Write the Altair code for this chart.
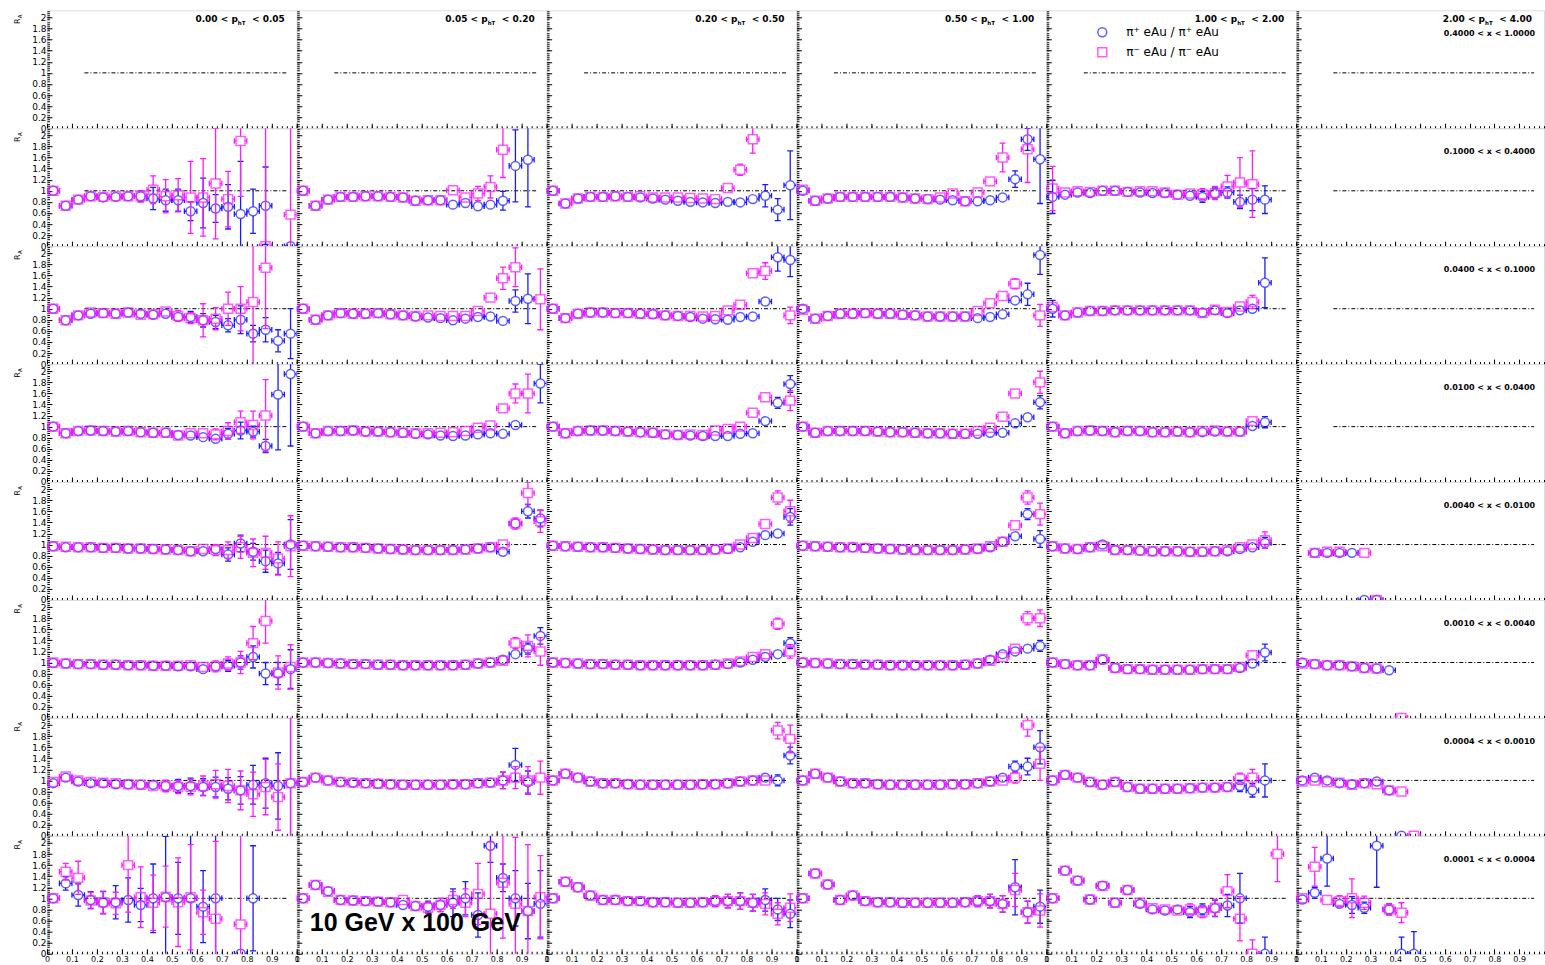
import altair as alt
import pandas as pd

N = None

# ---------------- bins / labels ----------------
Z_CENTERS = [0.025, 0.075, 0.125, 0.175, 0.225, 0.275, 0.325, 0.375, 0.425, 0.475,
             0.525, 0.575, 0.625, 0.675, 0.725, 0.775, 0.825, 0.875, 0.925, 0.975]
Z_HALF = 0.025
Y_MAX = 2.13
REF_X = [0.15, 0.96]
REF_Y = 1.0

PT_EDGES = ["0.00", "0.05", "0.20", "0.50", "1.00", "2.00", "4.00"]
X_RANGES = ["0.4000 < x < 1.0000", "0.1000 < x < 0.4000", "0.0400 < x < 0.1000",
            "0.0100 < x < 0.0400", "0.0040 < x < 0.0100", "0.0010 < x < 0.0040",
            "0.0004 < x < 0.0010", "0.0001 < x < 0.0004"]
SERIES = ["π⁺ eAu / π⁺ eAu", "π⁻ eAu / π⁻ eAu"]
COLORS = ["#1a1aff", "#ff1aff"]
SHAPES = ["circle", "square"]
BEAM_LABEL = "10 GeV x 100 GeV"

Y_MAJOR = [0.0, 0.2, 0.4, 0.6, 0.8, 1.0, 1.2, 1.4, 1.6, 1.8, 2.0]
X_MAJOR = [0.0, 0.1, 0.2, 0.3, 0.4, 0.5, 0.6, 0.7, 0.8, 0.9, 1.0]
Y_MINOR = [round(0.04 * k, 2) for k in range(54)]
X_MINOR = [round(0.02 * k, 2) for k in range(51)]

# ---------------- data: R<row>C<col>_POS / _NEG (value, error) ----------------
# row 2 : 0.1000 < x < 0.4000
R2C1_POS = [1.00, 0.73, 0.84, 0.90, 0.88, 0.89, 0.90, 0.90, 0.86, 0.83, 0.83, 0.63, 0.78, 0.68, 0.71, 0.58, 0.63, 0.73, N, 0.00]
R2C1_POS_ERR = [0.03, 0.03, 0.03, 0.04, 0.05, 0.06, 0.08, 0.10, 0.20, 0.20, 0.20, 0.17, 0.45, 0.25, 0.40, 0.95, 0.40, 0.70, N, 0.05]
R2C1_NEG = [1.00, 0.73, 0.84, 0.90, 0.89, 0.90, 0.90, 0.90, 1.02, 0.90, 0.92, 0.88, 0.88, 1.13, 0.85, 1.90, N, 0.00, N, 0.57]
R2C1_NEG_ERR = [0.03, 0.03, 0.03, 0.04, 0.05, 0.06, 0.08, 0.10, 0.25, 0.30, 0.30, 0.65, 0.70, 1.00, 0.50, 1.00, N, 2.20, N, 1.60]
R2C2_POS = [1.00, 0.73, 0.84, 0.89, 0.89, 0.90, 0.90, 0.89, 0.88, 0.82, 0.83, 0.83, 0.75, 0.78, 0.72, 0.75, 0.82, 1.45, 1.56, N]
R2C2_POS_ERR = [0.03, 0.03, 0.03, 0.03, 0.03, 0.03, 0.03, 0.03, 0.03, 0.03, 0.04, 0.04, 0.05, 0.05, 0.07, 0.08, 0.17, 0.65, 0.85, N]
R2C2_NEG = [1.00, 0.73, 0.84, 0.89, 0.89, 0.90, 0.90, 0.89, 0.88, 0.82, 0.83, 0.83, 1.01, 0.88, 0.95, 1.07, 1.74, N, N, N]
R2C2_NEG_ERR = [0.03, 0.03, 0.03, 0.03, 0.03, 0.03, 0.03, 0.03, 0.03, 0.03, 0.04, 0.04, 0.06, 0.07, 0.13, 0.20, 0.50, N, N, N]
R2C3_POS = [1.00, 0.77, 0.86, 0.89, 0.89, 0.90, 0.89, 0.88, 0.86, 0.84, 0.82, 0.80, 0.79, 0.78, 0.80, 0.79, 0.85, 0.91, 0.66, 1.10]
R2C3_POS_ERR = [0.03, 0.03, 0.03, 0.03, 0.03, 0.03, 0.03, 0.03, 0.03, 0.03, 0.03, 0.03, 0.03, 0.03, 0.04, 0.04, 0.08, 0.20, 0.20, 0.62]
R2C3_NEG = [1.00, 0.77, 0.86, 0.89, 0.89, 0.90, 0.89, 0.90, 0.88, 0.88, 0.88, 0.87, 0.86, 0.85, 1.05, 1.38, 1.93, N, N, N]
R2C3_NEG_ERR = [0.03, 0.03, 0.03, 0.03, 0.03, 0.03, 0.03, 0.03, 0.03, 0.03, 0.03, 0.03, 0.03, 0.03, 0.05, 0.10, 0.25, N, N, N]
R2C4_POS = [1.00, 0.82, 0.86, 0.89, 0.89, 0.89, 0.89, 0.89, 0.88, 0.86, 0.85, 0.84, 0.83, 0.81, 0.81, 0.83, 0.88, 1.21, 1.93, 1.57]
R2C4_POS_ERR = [0.03, 0.03, 0.03, 0.03, 0.03, 0.03, 0.03, 0.03, 0.03, 0.03, 0.03, 0.03, 0.03, 0.03, 0.03, 0.04, 0.05, 0.15, 0.20, 0.80]
R2C4_NEG = [1.02, 0.82, 0.86, 0.89, 0.89, 0.89, 0.89, 0.89, 0.88, 0.86, 0.85, 0.88, 0.95, 0.81, 0.97, 1.17, 1.60, N, 1.75, N]
R2C4_NEG_ERR = [0.03, 0.03, 0.03, 0.03, 0.03, 0.03, 0.03, 0.03, 0.03, 0.03, 0.03, 0.03, 0.03, 0.03, 0.03, 0.08, 0.26, N, 0.60, N]
R2C5_POS = [0.89, 0.93, 0.97, 0.96, 1.00, 1.00, 0.98, 0.97, 0.96, 0.96, 0.93, 0.91, 0.89, 0.95, 0.97, 0.80, 0.84, 0.84, N, N]
R2C5_POS_ERR = [0.30, 0.08, 0.06, 0.05, 0.05, 0.05, 0.05, 0.05, 0.06, 0.06, 0.07, 0.08, 0.10, 0.10, 0.10, 0.12, 0.20, 0.25, N, N]
R2C5_NEG = [1.04, 0.97, 0.99, 0.98, 1.00, 1.00, 0.98, 0.99, 0.99, 0.97, 0.93, 0.95, 0.94, 0.96, 1.08, 1.15, 1.12, N, N, N]
R2C5_NEG_ERR = [0.40, 0.08, 0.06, 0.05, 0.05, 0.05, 0.05, 0.05, 0.06, 0.06, 0.07, 0.08, 0.10, 0.12, 0.20, 0.45, 0.60, N, N, N]

# row 3 : 0.0400 < x < 0.1000
R3C1_POS = [1.00, 0.79, 0.88, 0.91, 0.92, 0.91, 0.93, 0.91, 0.89, 0.91, 0.85, 0.85, 0.79, 0.76, 0.70, 0.80, 0.55, 0.62, 0.42, 0.55]
R3C1_POS_ERR = [0.03, 0.03, 0.03, 0.03, 0.03, 0.03, 0.03, 0.03, 0.03, 0.06, 0.08, 0.10, 0.12, 0.12, 0.12, 0.25, 0.15, 0.22, 0.20, 0.45]
R3C1_NEG = [1.00, 0.79, 0.88, 0.93, 0.92, 0.91, 0.93, 0.89, 0.90, 0.95, 0.87, 0.83, 0.79, 0.82, 1.00, 1.00, 1.12, 1.74, N, N]
R3C1_NEG_ERR = [0.03, 0.03, 0.03, 0.03, 0.03, 0.03, 0.03, 0.03, 0.03, 0.06, 0.10, 0.10, 0.30, 0.20, 0.30, 0.40, 1.20, 1.10, N, N]
R3C2_POS = [1.00, 0.80, 0.88, 0.92, 0.91, 0.91, 0.92, 0.90, 0.88, 0.86, 0.84, 0.83, 0.79, 0.82, 0.85, 0.86, 0.78, 1.14, 1.18, N]
R3C2_POS_ERR = [0.03, 0.03, 0.03, 0.03, 0.03, 0.03, 0.03, 0.03, 0.03, 0.03, 0.03, 0.03, 0.03, 0.03, 0.04, 0.04, 0.04, 0.20, 0.45, N]
R3C2_NEG = [1.00, 0.80, 0.88, 0.92, 0.91, 0.91, 0.92, 0.90, 0.88, 0.87, 0.88, 0.87, 0.87, 0.87, 0.96, 1.20, 1.55, 1.75, N, 1.17]
R3C2_NEG_ERR = [0.03, 0.03, 0.03, 0.03, 0.03, 0.03, 0.03, 0.03, 0.03, 0.03, 0.03, 0.03, 0.03, 0.03, 0.05, 0.08, 0.20, 0.35, N, 0.55]
R3C3_POS = [1.00, 0.83, 0.91, 0.93, 0.93, 0.92, 0.92, 0.91, 0.90, 0.88, 0.87, 0.85, 0.82, 0.81, 0.80, 0.85, 0.86, 1.13, 1.93, 1.88]
R3C3_POS_ERR = [0.03, 0.03, 0.03, 0.03, 0.03, 0.03, 0.03, 0.03, 0.03, 0.03, 0.03, 0.03, 0.03, 0.03, 0.03, 0.03, 0.03, 0.06, 0.25, 0.30]
R3C3_NEG = [1.00, 0.83, 0.91, 0.93, 0.93, 0.92, 0.92, 0.91, 0.91, 0.88, 0.87, 0.87, 0.86, 0.87, 0.97, 1.07, 1.64, 1.68, N, 0.88]
R3C3_NEG_ERR = [0.03, 0.03, 0.03, 0.03, 0.03, 0.03, 0.03, 0.03, 0.03, 0.03, 0.03, 0.03, 0.03, 0.03, 0.03, 0.03, 0.05, 0.15, N, 0.15]
R3C4_POS = [1.00, 0.82, 0.87, 0.91, 0.91, 0.92, 0.91, 0.91, 0.89, 0.88, 0.86, 0.86, 0.86, 0.86, 0.83, 0.85, 0.90, 1.15, 1.26, 1.97]
R3C4_POS_ERR = [0.03, 0.03, 0.03, 0.03, 0.03, 0.03, 0.03, 0.03, 0.03, 0.03, 0.03, 0.03, 0.03, 0.03, 0.03, 0.03, 0.03, 0.07, 0.20, 0.35]
R3C4_NEG = [0.98, 0.82, 0.87, 0.91, 0.91, 0.92, 0.91, 0.91, 0.89, 0.88, 0.86, 0.86, 0.86, 0.86, 0.96, 1.10, 1.23, 1.45, N, 0.88]
R3C4_NEG_ERR = [0.03, 0.03, 0.03, 0.03, 0.03, 0.03, 0.03, 0.03, 0.03, 0.03, 0.03, 0.03, 0.03, 0.03, 0.03, 0.03, 0.04, 0.09, N, 0.20]
R3C5_POS = [1.00, 0.88, 0.93, 0.96, 0.96, 0.97, 0.97, 0.97, 0.97, 0.97, 0.97, 0.97, 0.93, 0.97, 0.92, 0.97, 1.00, 1.47, N, N]
R3C5_POS_ERR = [0.15, 0.03, 0.03, 0.03, 0.03, 0.03, 0.03, 0.03, 0.03, 0.03, 0.03, 0.03, 0.03, 0.03, 0.04, 0.06, 0.07, 0.45, N, N]
R3C5_NEG = [1.03, 0.88, 0.93, 0.96, 0.96, 0.97, 0.97, 0.97, 0.97, 0.97, 0.97, 0.97, 0.92, 0.98, 0.94, 1.04, 1.12, N, N, N]
R3C5_NEG_ERR = [0.05, 0.03, 0.03, 0.03, 0.03, 0.03, 0.03, 0.03, 0.03, 0.03, 0.03, 0.03, 0.03, 0.03, 0.04, 0.07, 0.12, N, N, N]

# row 4 : 0.0100 < x < 0.0400
R4C1_POS = [1.00, 0.88, 0.92, 0.93, 0.92, 0.91, 0.92, 0.90, 0.89, 0.89, 0.85, 0.84, 0.81, 0.78, 0.87, 0.93, 0.91, 0.65, 1.58, 1.95]
R4C1_POS_ERR = [0.03, 0.03, 0.03, 0.03, 0.03, 0.03, 0.03, 0.03, 0.03, 0.03, 0.03, 0.05, 0.05, 0.05, 0.10, 0.15, 0.10, 0.12, 1.00, 1.30]
R4C1_NEG = [1.00, 0.88, 0.92, 0.93, 0.92, 0.91, 0.92, 0.90, 0.89, 0.89, 0.84, 0.88, 0.88, 0.86, 0.92, 1.08, 1.03, 1.20, N, N]
R4C1_NEG_ERR = [0.03, 0.03, 0.03, 0.03, 0.03, 0.03, 0.03, 0.03, 0.03, 0.03, 0.03, 0.05, 0.07, 0.10, 0.15, 0.20, 0.25, 0.65, N, N]
R4C2_POS = [1.00, 0.88, 0.92, 0.92, 0.93, 0.91, 0.91, 0.90, 0.89, 0.87, 0.86, 0.84, 0.83, 0.84, 0.86, 0.88, 0.87, 1.03, N, 1.78]
R4C2_POS_ERR = [0.03, 0.03, 0.03, 0.03, 0.03, 0.03, 0.03, 0.03, 0.03, 0.03, 0.03, 0.03, 0.03, 0.03, 0.03, 0.03, 0.03, 0.05, N, 0.35]
R4C2_NEG = [1.00, 0.88, 0.92, 0.92, 0.93, 0.91, 0.91, 0.90, 0.89, 0.88, 0.88, 0.89, 0.90, 0.92, 0.98, 1.02, 1.33, 1.60, 1.60, N]
R4C2_NEG_ERR = [0.03, 0.03, 0.03, 0.03, 0.03, 0.03, 0.03, 0.03, 0.03, 0.03, 0.03, 0.03, 0.03, 0.03, 0.03, 0.03, 0.07, 0.17, 0.35, N]
R4C3_POS = [1.00, 0.88, 0.92, 0.93, 0.93, 0.92, 0.91, 0.90, 0.89, 0.86, 0.85, 0.84, 0.83, 0.83, 0.83, 0.87, 0.88, 1.10, 1.43, 1.77]
R4C3_POS_ERR = [0.03, 0.03, 0.03, 0.03, 0.03, 0.03, 0.03, 0.03, 0.03, 0.03, 0.03, 0.03, 0.03, 0.03, 0.03, 0.03, 0.03, 0.04, 0.10, 0.15]
R4C3_NEG = [1.00, 0.88, 0.92, 0.93, 0.93, 0.92, 0.91, 0.90, 0.89, 0.86, 0.85, 0.86, 0.85, 0.93, 0.96, 1.00, 1.25, 1.53, N, 1.47]
R4C3_NEG_ERR = [0.03, 0.03, 0.03, 0.03, 0.03, 0.03, 0.03, 0.03, 0.03, 0.03, 0.03, 0.03, 0.03, 0.03, 0.03, 0.03, 0.05, 0.07, N, 0.18]
R4C4_POS = [1.00, 0.89, 0.92, 0.92, 0.92, 0.92, 0.91, 0.90, 0.90, 0.89, 0.88, 0.88, 0.87, 0.87, 0.87, 0.89, 0.89, 1.06, 1.17, 1.44]
R4C4_POS_ERR = [0.03, 0.03, 0.03, 0.03, 0.03, 0.03, 0.03, 0.03, 0.03, 0.03, 0.03, 0.03, 0.03, 0.03, 0.03, 0.03, 0.03, 0.03, 0.05, 0.12]
R4C4_NEG = [1.00, 0.89, 0.92, 0.92, 0.92, 0.92, 0.91, 0.90, 0.90, 0.89, 0.88, 0.88, 0.87, 0.87, 0.92, 0.98, 1.18, 1.60, N, 1.80]
R4C4_NEG_ERR = [0.03, 0.03, 0.03, 0.03, 0.03, 0.03, 0.03, 0.03, 0.03, 0.03, 0.03, 0.03, 0.03, 0.03, 0.03, 0.03, 0.03, 0.07, N, 0.20]
R4C5_POS = [1.00, 0.88, 0.92, 0.93, 0.92, 0.90, 0.92, 0.92, 0.90, 0.90, 0.91, 0.90, 0.90, 0.91, 0.91, 0.91, 1.01, 1.08, N, N]
R4C5_POS_ERR = [0.03, 0.03, 0.03, 0.03, 0.03, 0.03, 0.03, 0.03, 0.03, 0.03, 0.03, 0.03, 0.03, 0.03, 0.03, 0.03, 0.07, 0.10, N, N]
R4C5_NEG = [1.00, 0.88, 0.92, 0.93, 0.92, 0.90, 0.92, 0.92, 0.90, 0.90, 0.91, 0.90, 0.92, 0.93, 0.91, 0.91, 1.10, N, N, N]
R4C5_NEG_ERR = [0.03, 0.03, 0.03, 0.03, 0.03, 0.03, 0.03, 0.03, 0.03, 0.03, 0.03, 0.03, 0.03, 0.03, 0.03, 0.03, 0.05, N, N, N]

# row 5 : 0.0040 < x < 0.0100
R5C1_POS = [0.97, 0.95, 0.95, 0.95, 0.94, 0.94, 0.93, 0.93, 0.92, 0.91, 0.90, 0.88, 0.88, 0.92, 0.82, 1.02, 0.87, 0.70, 0.66, 1.00]
R5C1_POS_ERR = [0.03, 0.03, 0.03, 0.03, 0.03, 0.03, 0.03, 0.03, 0.04, 0.04, 0.05, 0.06, 0.06, 0.08, 0.12, 0.15, 0.15, 0.20, 0.20, 0.45]
R5C1_NEG = [0.97, 0.96, 0.95, 0.95, 0.94, 0.94, 0.93, 0.93, 0.92, 0.91, 0.90, 0.88, 0.92, 0.90, 0.90, 0.95, 0.85, 0.85, 0.75, 0.97]
R5C1_NEG_ERR = [0.03, 0.03, 0.03, 0.03, 0.03, 0.03, 0.03, 0.03, 0.04, 0.04, 0.05, 0.06, 0.08, 0.10, 0.15, 0.20, 0.25, 0.30, 0.30, 0.55]
R5C2_POS = [0.98, 0.97, 0.96, 0.95, 0.95, 0.94, 0.93, 0.92, 0.91, 0.90, 0.90, 0.90, 0.90, 0.91, 0.93, 0.95, 0.87, 1.38, 1.60, 1.47]
R5C2_POS_ERR = [0.03, 0.03, 0.03, 0.03, 0.03, 0.03, 0.03, 0.03, 0.03, 0.03, 0.03, 0.03, 0.03, 0.03, 0.03, 0.03, 0.04, 0.08, 0.12, 0.15]
R5C2_NEG = [0.98, 0.97, 0.96, 0.95, 0.95, 0.94, 0.93, 0.92, 0.91, 0.90, 0.90, 0.90, 0.90, 0.91, 0.93, 0.95, 1.00, 1.38, 1.93, 1.42]
R5C2_NEG_ERR = [0.03, 0.03, 0.03, 0.03, 0.03, 0.03, 0.03, 0.03, 0.03, 0.03, 0.03, 0.03, 0.03, 0.03, 0.03, 0.04, 0.05, 0.10, 0.20, 0.20]
R5C3_POS = [0.98, 0.97, 0.96, 0.95, 0.95, 0.94, 0.93, 0.92, 0.91, 0.90, 0.90, 0.90, 0.90, 0.91, 0.92, 0.95, 1.05, 1.17, 1.20, 1.50]
R5C3_POS_ERR = [0.03, 0.03, 0.03, 0.03, 0.03, 0.03, 0.03, 0.03, 0.03, 0.03, 0.03, 0.03, 0.03, 0.03, 0.03, 0.03, 0.04, 0.05, 0.08, 0.15]
R5C3_NEG = [0.98, 0.97, 0.96, 0.95, 0.95, 0.94, 0.93, 0.92, 0.91, 0.90, 0.90, 0.90, 0.90, 0.91, 0.93, 1.00, 1.12, 1.37, 1.85, 1.60]
R5C3_NEG_ERR = [0.03, 0.03, 0.03, 0.03, 0.03, 0.03, 0.03, 0.03, 0.03, 0.03, 0.03, 0.03, 0.03, 0.03, 0.03, 0.03, 0.04, 0.06, 0.12, 0.20]
R5C4_POS = [0.98, 0.97, 0.96, 0.95, 0.95, 0.94, 0.93, 0.92, 0.91, 0.90, 0.90, 0.90, 0.90, 0.91, 0.92, 0.95, 1.05, 1.15, 1.55, 1.10]
R5C4_POS_ERR = [0.03, 0.03, 0.03, 0.03, 0.03, 0.03, 0.03, 0.03, 0.03, 0.03, 0.03, 0.03, 0.03, 0.03, 0.03, 0.03, 0.04, 0.05, 0.10, 0.15]
R5C4_NEG = [0.98, 0.97, 0.96, 0.95, 0.95, 0.94, 0.93, 0.92, 0.91, 0.90, 0.90, 0.90, 0.90, 0.91, 0.93, 0.97, 1.05, 1.35, 1.85, 1.55]
R5C4_NEG_ERR = [0.03, 0.03, 0.03, 0.03, 0.03, 0.03, 0.03, 0.03, 0.03, 0.03, 0.03, 0.03, 0.03, 0.03, 0.03, 0.03, 0.04, 0.06, 0.12, 0.20]
R5C5_POS = [0.97, 0.93, 0.92, 0.95, 1.00, 0.90, 0.90, 0.89, 0.88, 0.88, 0.88, 0.87, 0.87, 0.88, 0.88, 0.92, 0.95, 1.03, N, N]
R5C5_POS_ERR = [0.04, 0.04, 0.04, 0.04, 0.04, 0.04, 0.04, 0.04, 0.04, 0.04, 0.04, 0.04, 0.04, 0.04, 0.05, 0.05, 0.06, 0.10, N, N]
R5C5_NEG = [0.97, 0.93, 0.92, 0.95, 0.97, 0.90, 0.90, 0.89, 0.88, 0.88, 0.88, 0.87, 0.87, 0.88, 0.90, 0.95, 1.00, 1.08, N, N]
R5C5_NEG_ERR = [0.04, 0.04, 0.04, 0.04, 0.04, 0.04, 0.04, 0.04, 0.04, 0.04, 0.04, 0.04, 0.04, 0.04, 0.05, 0.05, 0.06, 0.15, N, N]
R5C6_POS = [N, 0.85, 0.85, 0.85, 0.85, 0.00, 0.00, N, N, N, N, N, N, N, N, N, N, N, N, N]
R5C6_POS_ERR = [N, 0.04, 0.04, 0.04, 0.04, 0.02, 0.02, N, N, N, N, N, N, N, N, N, N, N, N, N]
R5C6_NEG = [N, 0.85, 0.87, 0.87, N, 0.85, 0.00, N, N, N, N, N, N, N, N, N, N, N, N, N]
R5C6_NEG_ERR = [N, 0.04, 0.04, 0.04, N, 0.05, 0.02, N, N, N, N, N, N, N, N, N, N, N, N, N]

# row 6 : 0.0010 < x < 0.0040
R6C1_POS = [0.99, 0.98, 0.97, 0.97, 0.96, 0.96, 0.95, 0.95, 0.94, 0.94, 0.93, 0.93, 0.88, 0.93, 0.94, 1.00, 1.10, 0.80, 0.80, 0.88]
R6C1_POS_ERR = [0.03, 0.03, 0.03, 0.03, 0.03, 0.03, 0.03, 0.03, 0.04, 0.04, 0.05, 0.05, 0.06, 0.08, 0.10, 0.12, 0.20, 0.20, 0.20, 0.35]
R6C1_NEG = [1.00, 0.98, 0.97, 0.97, 0.96, 0.96, 0.95, 0.95, 0.94, 0.94, 0.94, 0.95, 0.92, 0.93, 0.98, 1.00, 1.35, 1.75, 0.82, 0.92]
R6C1_NEG_ERR = [0.03, 0.03, 0.03, 0.03, 0.03, 0.03, 0.03, 0.03, 0.04, 0.04, 0.05, 0.05, 0.08, 0.10, 0.12, 0.20, 0.30, 0.40, 0.30, 0.40]
R6C2_POS = [1.00, 1.00, 0.99, 0.98, 0.97, 0.97, 0.96, 0.96, 0.95, 0.95, 0.95, 0.95, 0.95, 0.96, 0.98, 1.00, 1.05, 1.15, 1.25, 1.48]
R6C2_POS_ERR = [0.03, 0.03, 0.03, 0.03, 0.03, 0.03, 0.03, 0.03, 0.03, 0.03, 0.03, 0.03, 0.03, 0.03, 0.03, 0.03, 0.04, 0.06, 0.10, 0.15]
R6C2_NEG = [1.00, 1.00, 0.99, 0.98, 0.97, 0.97, 0.96, 0.96, 0.95, 0.95, 0.95, 0.95, 0.95, 0.96, 0.98, 1.00, 1.03, 1.35, 1.30, 1.20]
R6C2_NEG_ERR = [0.03, 0.03, 0.03, 0.03, 0.03, 0.03, 0.03, 0.03, 0.03, 0.03, 0.03, 0.03, 0.03, 0.03, 0.03, 0.03, 0.05, 0.10, 0.20, 0.25]
R6C3_POS = [1.00, 0.99, 0.98, 0.97, 0.97, 0.96, 0.96, 0.95, 0.95, 0.95, 0.95, 0.95, 0.95, 0.96, 0.97, 1.00, 1.05, 1.10, 1.15, 1.35]
R6C3_POS_ERR = [0.03, 0.03, 0.03, 0.03, 0.03, 0.03, 0.03, 0.03, 0.03, 0.03, 0.03, 0.03, 0.03, 0.03, 0.03, 0.03, 0.04, 0.05, 0.08, 0.10]
R6C3_NEG = [1.00, 0.99, 0.98, 0.97, 0.97, 0.96, 0.96, 0.95, 0.95, 0.95, 0.95, 0.95, 0.95, 0.96, 0.98, 1.02, 1.10, 1.15, 1.70, 1.20]
R6C3_NEG_ERR = [0.03, 0.03, 0.03, 0.03, 0.03, 0.03, 0.03, 0.03, 0.03, 0.03, 0.03, 0.03, 0.03, 0.03, 0.03, 0.03, 0.04, 0.06, 0.10, 0.12]
R6C4_POS = [1.00, 0.99, 0.98, 0.97, 0.97, 0.96, 0.96, 0.95, 0.95, 0.95, 0.95, 0.95, 0.95, 0.96, 0.98, 1.05, 1.15, 1.20, 1.25, 1.30]
R6C4_POS_ERR = [0.03, 0.03, 0.03, 0.03, 0.03, 0.03, 0.03, 0.03, 0.03, 0.03, 0.03, 0.03, 0.03, 0.03, 0.03, 0.03, 0.04, 0.05, 0.07, 0.10]
R6C4_NEG = [1.00, 0.99, 0.98, 0.97, 0.97, 0.96, 0.96, 0.95, 0.95, 0.95, 0.95, 0.95, 0.95, 0.96, 0.98, 1.03, 1.10, 1.25, 1.80, 1.80]
R6C4_NEG_ERR = [0.03, 0.03, 0.03, 0.03, 0.03, 0.03, 0.03, 0.03, 0.03, 0.03, 0.03, 0.03, 0.03, 0.03, 0.03, 0.03, 0.04, 0.06, 0.12, 0.15]
R6C5_POS = [1.00, 0.97, 0.95, 0.95, 1.05, 0.90, 0.88, 0.88, 0.87, 0.87, 0.87, 0.87, 0.88, 0.88, 0.88, 0.90, 0.98, 1.18, N, N]
R6C5_POS_ERR = [0.04, 0.04, 0.04, 0.04, 0.04, 0.04, 0.04, 0.04, 0.04, 0.04, 0.04, 0.04, 0.04, 0.04, 0.05, 0.05, 0.06, 0.15, N, N]
R6C5_NEG = [1.00, 0.97, 0.95, 0.95, 1.06, 0.90, 0.88, 0.88, 0.87, 0.87, 0.87, 0.87, 0.88, 0.88, 0.88, 0.92, 1.13, N, N, N]
R6C5_NEG_ERR = [0.04, 0.04, 0.04, 0.04, 0.04, 0.04, 0.04, 0.04, 0.04, 0.04, 0.04, 0.04, 0.04, 0.04, 0.05, 0.05, 0.07, N, N, N]
R6C6_POS = [1.00, 0.97, 0.95, 0.95, 0.93, 0.90, 0.89, 0.86, N, N, N, N, N, N, N, N, N, N, N, N]
R6C6_POS_ERR = [0.04, 0.04, 0.04, 0.04, 0.04, 0.05, 0.05, 0.06, N, N, N, N, N, N, N, N, N, N, N, N]
R6C6_NEG = [0.98, 0.97, 0.95, 0.95, 0.93, 0.90, 0.89, N, 0.00, N, N, N, N, N, N, N, N, N, N, N]
R6C6_NEG_ERR = [0.04, 0.04, 0.04, 0.04, 0.04, 0.05, 0.05, N, 0.02, N, N, N, N, N, N, N, N, N, N, N]

# row 7 : 0.0004 < x < 0.0010
R7C1_POS = [0.95, 1.05, 0.98, 0.95, 0.95, 0.93, 0.93, 0.92, 0.92, 0.90, 0.90, 0.90, 0.88, 0.88, 0.85, 0.82, 0.92, 0.95, 0.90, 0.95]
R7C1_POS_ERR = [0.03, 0.04, 0.04, 0.04, 0.05, 0.05, 0.06, 0.07, 0.08, 0.10, 0.12, 0.14, 0.15, 0.18, 0.20, 0.25, 0.35, 0.45, 0.60, 1.20]
R7C1_NEG = [0.97, 1.07, 1.00, 0.97, 0.96, 0.95, 0.93, 0.92, 0.90, 0.90, 0.88, 0.88, 0.90, 0.93, 0.90, 0.82, 0.75, 0.88, 0.70, 0.95]
R7C1_NEG_ERR = [0.03, 0.04, 0.04, 0.04, 0.05, 0.05, 0.06, 0.07, 0.08, 0.10, 0.12, 0.14, 0.18, 0.25, 0.30, 0.35, 0.40, 0.50, 0.60, 1.20]
R7C2_POS = [0.97, 1.05, 1.00, 0.97, 0.96, 0.95, 0.94, 0.93, 0.92, 0.92, 0.92, 0.92, 0.93, 0.93, 0.95, 0.96, 1.00, 1.28, 0.97, N]
R7C2_POS_ERR = [0.03, 0.03, 0.03, 0.03, 0.03, 0.03, 0.03, 0.03, 0.03, 0.03, 0.03, 0.04, 0.04, 0.05, 0.06, 0.08, 0.15, 0.30, 0.20, N]
R7C2_NEG = [0.97, 1.05, 1.00, 0.97, 0.96, 0.95, 0.94, 0.93, 0.92, 0.92, 0.92, 0.92, 0.93, 0.93, 0.95, 0.96, 1.00, 1.05, 1.00, 1.05]
R7C2_NEG_ERR = [0.03, 0.03, 0.03, 0.03, 0.03, 0.03, 0.03, 0.03, 0.03, 0.03, 0.03, 0.04, 0.04, 0.05, 0.06, 0.08, 0.15, 0.20, 0.25, 0.30]
R7C3_POS = [1.00, 1.12, 1.05, 0.98, 0.95, 0.95, 0.93, 0.92, 0.92, 0.92, 0.92, 0.92, 0.93, 0.93, 0.95, 0.98, 1.00, 1.05, 1.00, 1.45]
R7C3_POS_ERR = [0.03, 0.03, 0.03, 0.03, 0.03, 0.03, 0.03, 0.03, 0.03, 0.03, 0.03, 0.03, 0.03, 0.03, 0.03, 0.04, 0.05, 0.06, 0.10, 0.15]
R7C3_NEG = [1.00, 1.12, 1.05, 0.98, 0.95, 0.95, 0.93, 0.92, 0.92, 0.92, 0.92, 0.92, 0.93, 0.93, 0.95, 0.98, 1.00, 1.00, 1.90, 1.75]
R7C3_NEG_ERR = [0.03, 0.03, 0.03, 0.03, 0.03, 0.03, 0.03, 0.03, 0.03, 0.03, 0.03, 0.03, 0.03, 0.03, 0.03, 0.04, 0.05, 0.06, 0.15, 0.25]
R7C4_POS = [1.00, 1.12, 1.05, 0.98, 0.95, 0.95, 0.93, 0.92, 0.92, 0.92, 0.92, 0.92, 0.93, 0.93, 0.95, 0.98, 1.05, 1.25, 1.25, 1.60]
R7C4_POS_ERR = [0.03, 0.03, 0.03, 0.03, 0.03, 0.03, 0.03, 0.03, 0.03, 0.03, 0.03, 0.03, 0.03, 0.03, 0.03, 0.04, 0.05, 0.10, 0.15, 0.30]
R7C4_NEG = [1.00, 1.12, 1.05, 0.98, 0.95, 0.95, 0.93, 0.92, 0.92, 0.92, 0.92, 0.92, 0.93, 0.93, 0.95, 0.98, 1.00, 1.05, 2.00, 1.30]
R7C4_NEG_ERR = [0.03, 0.03, 0.03, 0.03, 0.03, 0.03, 0.03, 0.03, 0.03, 0.03, 0.03, 0.03, 0.03, 0.03, 0.03, 0.04, 0.05, 0.10, 0.20, 0.30]
R7C5_POS = [1.00, 1.10, 1.05, 0.97, 0.92, 0.97, 0.88, 0.85, 0.85, 0.85, 0.85, 0.86, 0.87, 0.87, 0.88, 0.90, 0.82, 1.00, N, N]
R7C5_POS_ERR = [0.04, 0.04, 0.04, 0.04, 0.04, 0.04, 0.04, 0.04, 0.04, 0.04, 0.04, 0.05, 0.05, 0.06, 0.07, 0.10, 0.12, 0.30, N, N]
R7C5_NEG = [1.00, 1.10, 1.05, 0.97, 0.92, 0.97, 0.88, 0.85, 0.85, 0.85, 0.85, 0.86, 0.87, 0.87, 0.88, 1.03, 1.05, N, N, N]
R7C5_NEG_ERR = [0.04, 0.04, 0.04, 0.04, 0.04, 0.04, 0.04, 0.04, 0.04, 0.04, 0.04, 0.05, 0.05, 0.06, 0.07, 0.10, 0.15, N, N, N]
R7C6_POS = [1.00, 1.05, 1.00, 0.95, 0.93, 0.95, 0.98, 0.82, 0.00, N, N, N, N, N, N, N, N, N, N, N]
R7C6_POS_ERR = [0.04, 0.05, 0.05, 0.05, 0.05, 0.06, 0.07, 0.08, 0.03, N, N, N, N, N, N, N, N, N, N, N]
R7C6_NEG = [0.98, 1.00, 0.97, 0.96, 0.92, 0.95, 0.93, 0.82, 0.80, 0.00, N, N, N, N, N, N, N, N, N, N]
R7C6_NEG_ERR = [0.04, 0.05, 0.05, 0.05, 0.05, 0.06, 0.07, 0.08, 0.08, 0.03, N, N, N, N, N, N, N, N, N, N]

# row 8 : 0.0001 < x < 0.0004
R8C1_POS = [1.00, 1.27, 1.06, 0.97, 0.92, 0.93, 0.97, 0.88, 1.00, 1.02, 1.00, 1.00, 0.85, 1.00, N, 0.00, 1.00, N, N, N]
R8C1_POS_ERR = [0.05, 0.12, 0.20, 0.15, 0.20, 0.30, 0.40, 0.30, 0.62, 1.10, 0.65, 1.20, 0.65, 1.20, N, 0.05, 0.95, N, N, N]
R8C1_NEG = [1.00, 1.48, 1.37, 0.96, 0.93, 0.91, 1.60, 1.02, 0.92, 1.03, 0.93, 1.02, 0.75, 0.63, N, 0.53, N, N, N, N]
R8C1_NEG_ERR = [0.05, 0.15, 0.30, 0.15, 0.20, 0.20, 0.85, 0.55, 0.50, 0.55, 0.80, 0.95, 0.40, 1.40, N, 2.00, N, N, N, N]
R8C2_POS = [1.00, 1.24, 1.13, 0.97, 0.96, 0.95, 0.94, 0.93, 0.88, 0.86, 0.85, 0.88, 0.92, 1.00, 0.70, 1.95, 1.37, 1.00, 0.77, 0.90]
R8C2_POS_ERR = [0.03, 0.03, 0.03, 0.03, 0.03, 0.03, 0.04, 0.04, 0.07, 0.08, 0.10, 0.12, 0.25, 0.30, 0.40, 0.30, 0.25, 0.50, 0.50, 0.60]
R8C2_NEG = [1.00, 1.24, 1.12, 0.97, 0.96, 0.95, 0.94, 0.93, 0.97, 0.86, 0.83, 0.88, 0.97, 0.92, 1.08, 0.72, 1.28, 0.90, 0.77, 1.02]
R8C2_NEG_ERR = [0.03, 0.03, 0.03, 0.03, 0.03, 0.03, 0.04, 0.04, 0.07, 0.08, 0.10, 0.12, 0.15, 0.25, 0.55, 1.30, 1.00, 1.20, 1.20, 0.75]
R8C3_POS = [1.00, 1.30, 1.20, 1.05, 0.97, 0.97, 0.95, 0.95, 0.93, 0.93, 0.92, 0.92, 0.93, 0.95, 0.95, 0.95, 0.92, 0.97, 0.80, 0.72]
R8C3_POS_ERR = [0.03, 0.03, 0.03, 0.03, 0.03, 0.03, 0.03, 0.03, 0.04, 0.04, 0.05, 0.06, 0.08, 0.10, 0.12, 0.15, 0.15, 0.20, 0.20, 0.25]
R8C3_NEG = [1.00, 1.30, 1.20, 1.05, 0.97, 0.97, 0.95, 0.95, 0.93, 0.93, 0.92, 0.92, 0.93, 0.95, 0.95, 0.95, 0.92, 0.90, 0.72, 0.83]
R8C3_NEG_ERR = [0.03, 0.03, 0.03, 0.03, 0.03, 0.03, 0.03, 0.03, 0.04, 0.04, 0.05, 0.06, 0.08, 0.10, 0.12, 0.15, 0.15, 0.20, 0.20, 0.25]
R8C4_POS = [1.00, 1.45, 1.25, 0.97, 1.05, 0.95, 0.93, 0.93, 0.92, 0.92, 0.92, 0.92, 0.92, 0.93, 0.95, 0.95, 0.90, 1.20, 0.75, 0.85]
R8C4_POS_ERR = [0.03, 0.04, 0.04, 0.04, 0.04, 0.04, 0.04, 0.04, 0.04, 0.05, 0.05, 0.06, 0.07, 0.08, 0.10, 0.12, 0.15, 0.50, 0.20, 0.30]
R8C4_NEG = [1.00, 1.45, 1.25, 0.97, 1.05, 0.95, 0.93, 0.93, 0.92, 0.92, 0.92, 0.92, 0.92, 0.93, 0.95, 0.95, 0.90, 1.15, 0.75, 0.78]
R8C4_NEG_ERR = [0.03, 0.04, 0.04, 0.04, 0.04, 0.04, 0.04, 0.04, 0.04, 0.05, 0.05, 0.06, 0.07, 0.08, 0.10, 0.12, 0.15, 0.30, 0.20, 0.30]
R8C5_POS = [1.00, 1.50, 1.32, 0.98, 1.23, 0.92, 1.15, 0.90, 0.80, 0.78, 0.80, 0.75, 0.80, 0.82, 0.87, 1.00, N, 0.00, N, N]
R8C5_POS_ERR = [0.04, 0.05, 0.05, 0.05, 0.06, 0.06, 0.07, 0.07, 0.08, 0.08, 0.08, 0.10, 0.10, 0.15, 0.20, 0.45, N, 0.30, N, N]
R8C5_NEG = [1.00, 1.50, 1.32, 0.98, 1.22, 0.92, 1.15, 0.92, 0.82, 0.80, 0.78, 0.80, 0.75, 0.83, 1.13, 0.63, 0.00, N, 1.80, N]
R8C5_NEG_ERR = [0.04, 0.05, 0.05, 0.05, 0.06, 0.06, 0.07, 0.07, 0.08, 0.08, 0.08, 0.10, 0.10, 0.15, 0.30, 0.40, 0.25, N, 0.50, N]
R8C6_POS = [0.98, 1.10, 1.72, 0.90, 0.88, 0.83, 1.95, 0.80, 0.00, 0.00, N, N, N, N, N, N, N, N, N, N]
R8C6_POS_ERR = [0.05, 0.10, 0.50, 0.08, 0.15, 0.10, 0.75, 0.10, 0.30, 0.40, N, N, N, N, N, N, N, N, N, N]
R8C6_NEG = [1.00, 1.57, 0.97, 0.95, 1.00, 0.92, N, 0.80, 0.74, N, N, N, N, N, N, N, N, N, N, N]
R8C6_NEG_ERR = [0.05, 0.35, 0.07, 0.10, 0.35, 0.12, N, 0.10, 0.18, N, N, N, N, N, N, N, N, N, N, N]

# ---------------- styling ----------------
PANEL_W = [250, 250, 250, 250, 250, 248]
PANEL_H = 118
MR_Y = 0.085   # marker radius in y units (error bars stop at marker edge)
MR_X = 0.018
CAP_X = 0.012
CAP_Y = 0.05
FONT = "DejaVu Sans"

XS = alt.Scale(domain=[0, 1], nice=False, zero=False)
YS = alt.Scale(domain=[0, Y_MAX], nice=False, zero=False)


def series_frames(r, c):
    out = []
    for s, key in enumerate(("POS", "NEG")):
        vals = globals().get(f"R{r}C{c}_{key}")
        errs = globals().get(f"R{r}C{c}_{key}_ERR")
        if vals is None:
            continue
        pts, segs = [], []
        for z, v, e in zip(Z_CENTERS, vals, errs):
            if v is None:
                continue
            pts.append({"z": z, "v": v, "series": SERIES[s]})
            lo, hi = v - e, v + e
            if lo < v - MR_Y:
                segs.append({"x": z, "x2": z, "y": lo, "y2": v - MR_Y})
                segs.append({"x": z - CAP_X, "x2": z + CAP_X, "y": lo, "y2": lo})
            if hi > v + MR_Y:
                segs.append({"x": z, "x2": z, "y": v + MR_Y, "y2": hi})
                segs.append({"x": z - CAP_X, "x2": z + CAP_X, "y": hi, "y2": hi})
            segs.append({"x": z - Z_HALF, "x2": z - MR_X, "y": v, "y2": v})
            segs.append({"x": z + MR_X, "x2": z + Z_HALF, "y": v, "y2": v})
            segs.append({"x": z - Z_HALF, "x2": z - Z_HALF, "y": v - CAP_Y, "y2": v + CAP_Y})
            segs.append({"x": z + Z_HALF, "x2": z + Z_HALF, "y": v - CAP_Y, "y2": v + CAP_Y})
        out.append((s, pd.DataFrame(pts), pd.DataFrame(segs)))
    return out


def txt(text, x, y, size, weight="normal", align="left", baseline="alphabetic", angle=0, font=FONT):
    return alt.Chart(pd.DataFrame({"t": [text]})).mark_text(
        align=align, baseline=baseline, fontSize=size, fontWeight=weight,
        font=font, angle=angle, color="black").encode(
        x=alt.value(x), y=alt.value(y), text="t:N")


LEGEND = alt.Legend(title=None, orient="none", legendX=1050, legendY=16, symbolSize=80,
                    symbolStrokeWidth=1.5, labelFontSize=12, labelFont=FONT, labelOffset=18,
                    rowPadding=4, padding=0, labelColor="black")


def panel(r, c):
    w = PANEL_W[c - 1]
    xvals = X_MAJOR if c < 6 else X_MAJOR[:-1]
    x_major = alt.Axis(orient="bottom", values=xvals, tickSize=5, offset=-5, domain=False, grid=False,
                       labels=(r == 8), format="~g", labelFontSize=8, labelPadding=2,
                       labelFlush=False, labelOverlap=False, title=None, tickColor="black",
                       labelColor="black", labelFont=FONT)
    y_major = alt.Axis(orient="left", values=Y_MAJOR, tickSize=5, offset=-5, domain=False, grid=False,
                       labels=(c == 1), format="~g", labelFontSize=9, labelPadding=1,
                       labelOverlap=False, title=None, tickColor="black", labelColor="black",
                       labelFont=FONT)
    x_minor = alt.Axis(orient="bottom", values=X_MINOR, tickSize=2.5, offset=-2.5, domain=False,
                       grid=False, labels=False, title=None, tickColor="black")
    y_minor = alt.Axis(orient="left", values=Y_MINOR, tickSize=2.5, offset=-2.5, domain=False,
                       grid=False, labels=False, title=None, tickColor="black")
    ref_df = pd.DataFrame({"x": [REF_X[0]], "x2": [REF_X[1]], "y": [REF_Y]})
    layers = [
        alt.Chart(ref_df).mark_rule(color="black", strokeWidth=1, strokeDash=[4, 2, 1, 2]).encode(
            x=alt.X("x:Q", scale=XS, axis=x_major), x2="x2:Q", y=alt.Y("y:Q", scale=YS, axis=y_major)),
        alt.Chart(ref_df).mark_rule(opacity=0).encode(
            x=alt.X("x:Q", scale=XS, axis=x_minor), x2="x2:Q", y=alt.Y("y:Q", scale=YS, axis=y_minor)),
    ]
    for s, pts, segs in series_frames(r, c):
        if len(segs):
            layers.append(alt.Chart(segs).mark_rule(clip=True, strokeWidth=1.3, color=COLORS[s]).encode(
                x=alt.X("x:Q", scale=XS, axis=None), x2="x2:Q",
                y=alt.Y("y:Q", scale=YS, axis=None), y2="y2:Q"))
        if len(pts):
            layers.append(alt.Chart(pts).mark_point(clip=True, filled=False, size=80, strokeWidth=1.5).encode(
                x=alt.X("z:Q", scale=XS, axis=None),
                y=alt.Y("v:Q", scale=YS, axis=None),
                color=alt.Color("series:N", scale=alt.Scale(domain=SERIES, range=COLORS), legend=LEGEND),
                shape=alt.Shape("series:N", scale=alt.Scale(domain=SERIES, range=SHAPES), legend=LEGEND)))
    if r == 1:
        lo, hi = PT_EDGES[c - 1], PT_EDGES[c]
        layers.append(txt(f"< {hi}", w - 12, 12, 9, "bold", "right"))
        layers.append(txt("hT", w - 59, 15, 5.5, "bold", "left"))
        layers.append(txt(f"{lo} < p", w - 59, 12, 9, "bold", "right"))
    if c == 6:
        layers.append(txt(X_RANGES[r - 1], w - 9, 26, 8, "bold", "right"))
    if c == 1:
        layers.append(txt("R", -29, 11, 8, "normal", "center", "middle", 270))
        layers.append(txt("A", -26.5, 6, 5.5, "normal", "center", "middle", 270))
    if r == 8 and c == 2:
        layers.append(txt(BEAM_LABEL, 13, 95, 25, "bold", "left", font="Liberation Sans"))
    return alt.layer(*layers).resolve_axis(x="independent", y="independent").properties(
        width=w, height=PANEL_H)


panels = [panel(r, c) for r in range(1, 9) for c in range(1, 7)]

chart = alt.concat(*panels, columns=6, spacing=0, bounds="flush").properties(
    padding={"left": 13, "top": 9, "right": 0, "bottom": 0}
).configure_view(stroke="black", strokeWidth=1.6).configure(background="white")

chart.save("out.html", embed_options={"renderer": "svg", "actions": False})
